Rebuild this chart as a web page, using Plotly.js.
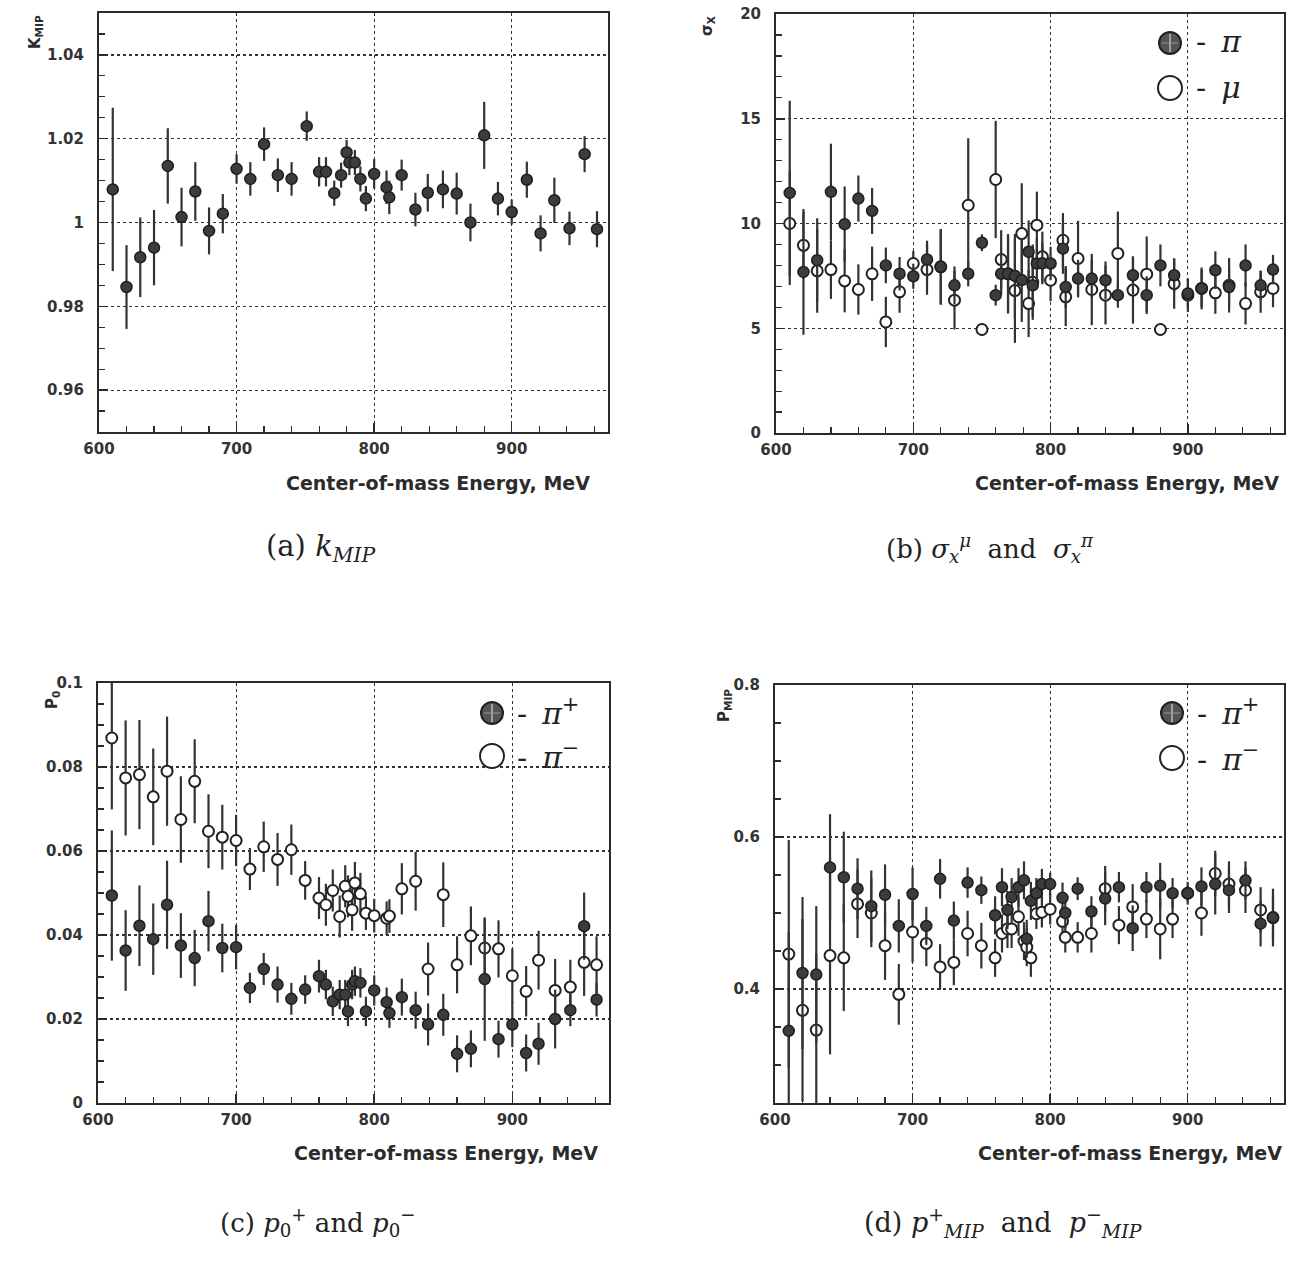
<!DOCTYPE html>
<html>
<head>
<meta charset="utf-8">
<script src="https://cdn.plot.ly/plotly-3.0.1.min.js"></script>
<style>html,body{margin:0;padding:0;background:#fff;}#chart{width:1290px;height:1262px;}</style>
</head>
<body>
<div id="chart"></div>
<script>
// ---------- (a) k_MIP ----------
var energyA = [610,620,630,640,650,660,670,680,690,700,710,720,730,740,751,760,765,771,776,780,782,786,790,794,800,809,811,820,830,839,850,860,870,880,890,900,911,921,931,942,953,962];
var kMip    = [1.0079,0.9846,0.9917,0.9940,1.0135,1.0013,1.0074,0.9980,1.0021,1.0128,1.0104,1.0187,1.0113,1.0104,1.0230,1.0121,1.0121,1.0070,1.0113,1.0167,1.0143,1.0143,1.0104,1.0057,1.0116,1.0084,1.0060,1.0113,1.0031,1.0071,1.0079,1.0069,1.0000,1.0208,1.0057,1.0025,1.0102,0.9974,1.0053,0.9986,1.0163,0.9984];
var kMipErr = [0.0195,0.010,0.0095,0.009,0.009,0.007,0.007,0.0056,0.0047,0.0035,0.004,0.004,0.004,0.004,0.0035,0.0035,0.0035,0.003,0.003,0.003,0.003,0.003,0.003,0.003,0.0035,0.004,0.004,0.0037,0.004,0.0045,0.0045,0.005,0.0045,0.008,0.004,0.003,0.0043,0.0043,0.0054,0.004,0.0043,0.0043];

// ---------- (b) sigma_x ----------
var energyB = [610,620,630,640,650,660,670,680,690,700,710,720,730,740,750,760,764,769,774,779,784,787,790,794,800,809,811,820,830,840,849,860,870,880,890,900,910,920,930,942,953,962];
var sigmaPi    = [11.46,7.69,8.25,11.51,9.97,11.19,10.6,8.0,7.6,7.48,8.28,7.93,7.05,7.6,9.08,6.58,7.6,7.6,7.5,7.3,8.65,7.05,8.09,8.1,8.09,8.8,6.97,7.37,7.37,7.29,6.58,7.53,6.58,8.0,7.53,6.66,6.9,7.77,6.97,8.0,7.05,7.8];
var sigmaPiErr = [4.4,3.0,2.0,2.3,1.8,1.1,1.1,0.85,0.8,0.6,0.9,1.8,0.9,0.6,0.4,0.5,1.0,1.8,2.0,2.0,1.5,1.5,1.2,1.0,0.8,1.2,1.0,0.9,0.9,0.9,0.6,0.9,0.9,1.0,0.8,0.7,0.9,0.9,0.9,1.0,0.7,0.7];
var sigmaMu    = [10.0,8.96,7.74,7.8,7.26,6.85,7.6,5.3,6.74,8.09,7.8,7.93,6.34,10.87,4.94,12.1,8.28,7.6,6.8,9.52,6.18,7.2,9.92,8.41,7.29,9.2,6.5,8.33,6.85,6.58,8.57,6.82,7.58,4.94,7.13,6.58,6.9,6.69,7.05,6.18,6.74,6.9];
var sigmaMuErr = [2.5,1.6,2.0,1.4,1.5,1.2,1.3,1.2,1.0,0.6,1.2,1.8,1.4,3.2,0.3,2.8,1.4,1.9,2.5,2.4,1.6,1.8,1.6,1.2,1.0,1.3,1.4,1.8,1.7,1.4,2.0,1.6,1.8,0.2,1.2,0.8,1.0,1.0,1.3,1.0,1.0,0.9];

// ---------- (c) p0 ----------
var energyC = [610,620,630,640,650,660,670,680,690,700,710,720,730,740,750,760,765,770,775,779,781,784,786,790,794,800,809,811,820,830,839,850,860,870,880,890,900,910,919,931,942,952,961];
var p0Plus     = [0.0494,0.0363,0.0422,0.0390,0.0472,0.0375,0.0345,0.0433,0.0369,0.0371,0.0274,0.0319,0.0282,0.0248,0.0270,0.0302,0.0282,0.0242,0.0258,0.0258,0.0218,0.0282,0.0290,0.0286,0.0218,0.0268,0.0240,0.0214,0.0252,0.0221,0.0187,0.0210,0.0117,0.0129,0.0295,0.0152,0.0187,0.0119,0.0141,0.0200,0.0221,0.0421,0.0246];
var p0PlusErr  = [0.0155,0.0096,0.0096,0.0085,0.0105,0.0077,0.0067,0.0072,0.0058,0.0053,0.0036,0.0038,0.0043,0.0038,0.0034,0.0039,0.0035,0.0035,0.0035,0.0035,0.0035,0.0035,0.0035,0.0035,0.0035,0.0036,0.0035,0.0035,0.0044,0.0044,0.005,0.005,0.0044,0.0044,0.0147,0.0044,0.0054,0.0044,0.005,0.007,0.0038,0.008,0.004];
var p0Minus    = [0.0869,0.0774,0.0782,0.0729,0.0790,0.0675,0.0766,0.0647,0.0633,0.0625,0.0557,0.0610,0.0580,0.0603,0.0530,0.0488,0.0472,0.0506,0.0444,0.0516,0.0492,0.0460,0.0524,0.0498,0.0452,0.0446,0.0440,0.0445,0.0510,0.0528,0.0319,0.0496,0.0329,0.0398,0.0369,0.0367,0.0303,0.0266,0.0340,0.0268,0.0276,0.0335,0.0329];
var p0MinusErr = [0.017,0.0137,0.013,0.0115,0.013,0.0103,0.010,0.0088,0.0077,0.0061,0.005,0.006,0.0063,0.006,0.0046,0.005,0.005,0.005,0.005,0.005,0.005,0.005,0.005,0.005,0.004,0.004,0.004,0.004,0.0061,0.007,0.0063,0.0077,0.0068,0.007,0.007,0.0068,0.0065,0.006,0.007,0.0075,0.0065,0.008,0.0068];

// ---------- (d) p_MIP ----------
var energyD = [610,620,630,640,650,660,670,680,690,700,710,720,730,740,750,760,765,769,772,777,781,783,786,790,794,800,809,811,820,830,840,850,860,870,880,889,900,910,920,930,942,953,962];
var pMipPlus     = [0.345,0.421,0.419,0.560,0.547,0.532,0.509,0.524,0.483,0.525,0.483,0.545,0.490,0.540,0.530,0.497,0.534,0.504,0.521,0.534,0.543,0.466,0.516,0.526,0.538,0.538,0.520,0.500,0.532,0.502,0.519,0.534,0.480,0.534,0.536,0.526,0.526,0.535,0.538,0.530,0.543,0.486,0.494];
var pMipPlusErr  = [0.13,0.10,0.09,0.07,0.06,0.04,0.047,0.04,0.035,0.035,0.025,0.026,0.025,0.02,0.018,0.025,0.025,0.025,0.025,0.025,0.025,0.025,0.025,0.02,0.02,0.015,0.02,0.02,0.015,0.02,0.035,0.02,0.03,0.02,0.03,0.02,0.01,0.025,0.04,0.03,0.025,0.03,0.038];
var pMipMinus    = [0.446,0.372,0.346,0.444,0.441,0.512,0.500,0.457,0.393,0.475,0.460,0.429,0.435,0.473,0.457,0.441,0.473,0.479,0.479,0.495,0.463,0.455,0.441,0.499,0.501,0.505,0.489,0.468,0.468,0.473,0.532,0.484,0.508,0.492,0.479,0.492,0.526,0.500,0.552,0.538,0.530,0.504,0.494];
var pMipMinusErr = [0.15,0.12,0.10,0.13,0.07,0.045,0.045,0.045,0.04,0.04,0.03,0.03,0.03,0.03,0.03,0.025,0.025,0.025,0.025,0.025,0.025,0.025,0.025,0.02,0.02,0.02,0.02,0.02,0.02,0.025,0.03,0.025,0.03,0.025,0.04,0.025,0.015,0.03,0.03,0.03,0.03,0.03,0.03];

// ---------- text ----------
var xTitle = "Center-of-mass Energy, MeV";
var yTitles = ["K<sub>MIP</sub>", "σ<sub>X</sub>", "P<sub>0</sub>", "P<sub>MIP</sub>"];
var captions = [
  "(a) <i>k<sub>MIP</sub></i>",
  "(b) <i>σ<sub>x</sub><sup>μ</sup></i>  and  <i>σ<sub>x</sub><sup>π</sup></i>",
  "(c) <i>p</i><sub>0</sub><sup>+</sup> and <i>p</i><sub>0</sub><sup>−</sup>",
  "(d) <i>p</i><sup>+</sup><sub><i>MIP</i></sub>  and  <i>p</i><sup>−</sup><sub><i>MIP</i></sub>"
];
var legendB = ["-\u2002<i>π</i>", "-\u2002<i>μ</i>"];
var legendCD = ["-\u2002<i>π</i><sup>+</sup>", "-\u2002<i>π</i><sup>−</sup>"];

// ---------- styling ----------
var W = 1290, H = 1262;
var ink = "#2b2b2b";
var sans = "DejaVu Sans, Liberation Sans, Arial, sans-serif";
var serif = "DejaVu Serif, Liberation Serif, serif";

function filledTrace(x, y, e, xa, ya, name) {
  return {x: x, y: y, type: "scatter", mode: "markers", name: name, xaxis: xa, yaxis: ya, showlegend: false,
    marker: {symbol: "circle", size: 11, color: "#3c3c3c", line: {color: "#1e1e1e", width: 1.5}},
    error_y: {type: "data", array: e, visible: true, thickness: 2.2, width: 0, color: "#333"}};
}
function openTrace(x, y, e, xa, ya, name) {
  return {x: x, y: y, type: "scatter", mode: "markers", name: name, xaxis: xa, yaxis: ya, showlegend: false,
    marker: {symbol: "circle", size: 11, color: "#ffffff", line: {color: "#222", width: 2}},
    error_y: {type: "data", array: e, visible: true, thickness: 2.2, width: 0, color: "#333"}};
}

var data = [
  filledTrace(energyA, kMip, kMipErr, "x", "y", "k_MIP"),
  openTrace(energyB, sigmaMu, sigmaMuErr, "x2", "y2", "μ"),
  filledTrace(energyB, sigmaPi, sigmaPiErr, "x2", "y2", "π"),
  openTrace(energyC, p0Minus, p0MinusErr, "x3", "y3", "π−"),
  filledTrace(energyC, p0Plus, p0PlusErr, "x3", "y3", "π+"),
  openTrace(energyD, pMipMinus, pMipMinusErr, "x4", "y4", "π−"),
  filledTrace(energyD, pMipPlus, pMipPlusErr, "x4", "y4", "π+")
];

var tickFont = {family: sans, size: 15, weight: "bold", color: "#333"};
function xAxis(domain, anchor) {
  return {domain: domain, anchor: anchor, range: [600, 970], tick0: 600, dtick: 100,
    ticks: "inside", ticklen: 9, tickwidth: 1.5, tickcolor: ink,
    minor: {dtick: 20, ticks: "inside", ticklen: 6, tickwidth: 1.2, tickcolor: ink, showgrid: false},
    showline: true, linecolor: ink, linewidth: 2, mirror: true,
    showgrid: true, gridcolor: "#333", gridwidth: 1.2, griddash: "dot", zeroline: false,
    tickfont: tickFont, ticklabelstandoff: 2};
}
function yAxis(domain, anchor, range, dtick, minor) {
  return {domain: domain, anchor: anchor, range: range, tick0: 0, dtick: dtick,
    ticks: "inside", ticklen: 9, tickwidth: 1.5, tickcolor: ink,
    minor: {dtick: minor, ticks: "inside", ticklen: 6, tickwidth: 1.2, tickcolor: ink, showgrid: false},
    showline: true, linecolor: ink, linewidth: 2, mirror: true,
    showgrid: true, gridcolor: "#333", gridwidth: 1.2, griddash: "dot", zeroline: false,
    tickfont: tickFont, ticklabelstandoff: 10};
}

function px(v) { return v / W; }
function py(v) { return 1 - v / H; }

var annotations = [];
function ann(text, x, y, opts) {
  var a = {text: text, xref: "paper", yref: "paper", x: px(x), y: py(y), showarrow: false,
    xanchor: "center", yanchor: "middle", font: {family: sans, size: 15, color: ink, weight: "bold"}};
  for (var k in opts) a[k] = opts[k];
  annotations.push(a);
}
// x titles
var xtFont = {family: sans, size: 19, weight: "bold", color: ink};
ann(xTitle, 592, 483, {xanchor: "right", font: xtFont});
ann(xTitle, 1281, 483, {xanchor: "right", font: xtFont});
ann(xTitle, 600, 1153, {xanchor: "right", font: xtFont});
ann(xTitle, 1284, 1153, {xanchor: "right", font: xtFont});
// y titles
ann(yTitles[0], 36, 32, {textangle: -90});
ann(yTitles[1], 708, 26, {textangle: -90});
ann(yTitles[2], 52, 700, {textangle: -90});
ann(yTitles[3], 724, 706, {textangle: -90});
// captions
var capFont = {family: serif, size: 26, color: "#222"};
ann(captions[0], 320, 548, {font: {family: serif, size: 29, color: "#222"}});
ann(captions[1], 990, 548, {font: capFont});
ann(captions[2], 318, 1222, {font: capFont});
ann(captions[3], 1003, 1222, {font: {family: serif, size: 27, color: "#222"}});
// legends (text)
var legFont = {family: serif, size: 30, color: "#222"};
ann(legendB[0], 1194, 42, {xanchor: "left", font: legFont});
ann(legendB[1], 1194, 87, {xanchor: "left", font: legFont});
ann(legendCD[0], 515, 712, {xanchor: "left", font: legFont});
ann(legendCD[1], 515, 755, {xanchor: "left", font: legFont});
ann(legendCD[0], 1195, 712, {xanchor: "left", font: legFont});
ann(legendCD[1], 1195, 757, {xanchor: "left", font: legFont});

// legend glyphs
var shapes = [];
function glyph(cx, cy, r, filled) {
  shapes.push({type: "circle", xref: "paper", yref: "paper",
    x0: px(cx - r), x1: px(cx + r), y0: py(cy + r), y1: py(cy - r),
    fillcolor: filled ? "#555" : "#fff", line: {color: "#222", width: 2}});
  if (filled) {
    shapes.push({type: "line", xref: "paper", yref: "paper", x0: px(cx), x1: px(cx), y0: py(cy + r - 2), y1: py(cy - r + 2), line: {color: "#bbb", width: 1.5}});
    shapes.push({type: "line", xref: "paper", yref: "paper", x0: px(cx - r + 3), x1: px(cx + r - 3), y0: py(cy), y1: py(cy), line: {color: "#999", width: 1}});
  }
}
glyph(1170, 43, 11, true);
glyph(1170, 88, 12, false);
glyph(492, 713, 11, true);
glyph(492, 756, 12, false);
glyph(1172, 713, 11, true);
glyph(1172, 758, 12, false);

var layout = {
  width: W, height: H, margin: {l: 0, r: 0, t: 0, b: 0},
  paper_bgcolor: "#ffffff", plot_bgcolor: "#ffffff", showlegend: false,
  xaxis:  xAxis([99/W, 608/W], "y"),
  yaxis:  yAxis([1-432/H, 1-13/H], "x", [0.95, 1.05], 0.02, 0.005),
  xaxis2: xAxis([776/W, 1284/W], "y2"),
  yaxis2: yAxis([1-433/H, 1-14/H], "x2", [0, 20], 5, 1),
  xaxis3: xAxis([98/W, 609/W], "y3"),
  yaxis3: yAxis([1-1103/H, 1-683/H], "x3", [0, 0.1], 0.02, 0.005),
  xaxis4: xAxis([775/W, 1284/W], "y4"),
  yaxis4: yAxis([1-1103/H, 1-685/H], "x4", [0.25, 0.8], 0.2, 0.05),
  annotations: annotations,
  shapes: shapes
};

Plotly.newPlot("chart", data, layout, {displayModeBar: false, staticPlot: true});
</script>
</body>
</html>
